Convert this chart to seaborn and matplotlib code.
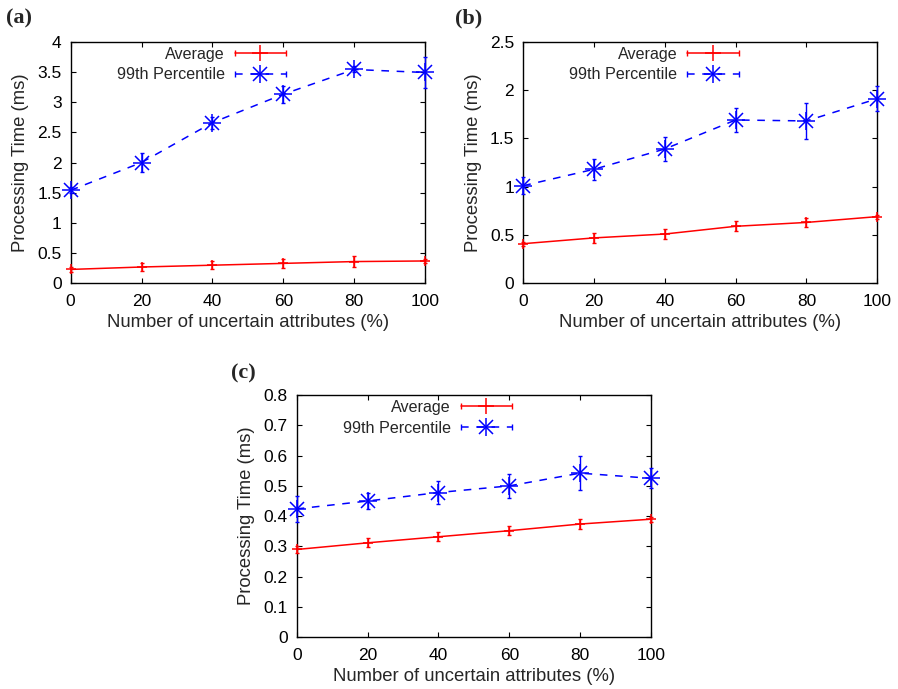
import numpy as np
import pandas as pd
import matplotlib
matplotlib.use("Agg")
import matplotlib.pyplot as plt
import seaborn as sns
from matplotlib.lines import Line2D
from matplotlib.legend_handler import HandlerLine2D, HandlerTuple
from matplotlib.ticker import FixedLocator, FixedFormatter

# ---------------- data ----------------
x_pct = [0, 20, 40, 60, 80, 100]
x_ticklabels = ["0", "20", "40", "60", "80", "100"]

a_avg = [0.23, 0.27, 0.30, 0.33, 0.36, 0.37]
a_avg_err = [0.04, 0.06, 0.07, 0.07, 0.09, 0.03]
a_p99 = [1.54, 2.00, 2.66, 3.13, 3.54, 3.49]
a_p99_err = [0.05, 0.15, 0.10, 0.14, 0.05, 0.25]
a_yticklabels = ["0", "0.5", "1", "1.5", "2", "2.5", "3", "3.5", "4"]

b_avg = [0.41, 0.47, 0.51, 0.59, 0.63, 0.69]
b_avg_err = [0.02, 0.05, 0.05, 0.05, 0.05, 0.02]
b_p99 = [1.01, 1.18, 1.39, 1.69, 1.68, 1.91]
b_p99_err = [0.09, 0.11, 0.12, 0.12, 0.19, 0.13]
b_yticklabels = ["0", "0.5", "1", "1.5", "2", "2.5"]

c_avg = [0.290, 0.312, 0.332, 0.352, 0.374, 0.390]
c_avg_err = [0.012, 0.015, 0.015, 0.015, 0.016, 0.008]
c_p99 = [0.424, 0.450, 0.478, 0.500, 0.542, 0.525]
c_p99_err = [0.043, 0.025, 0.037, 0.040, 0.056, 0.033]
c_yticklabels = ["0", "0.1", "0.2", "0.3", "0.4", "0.5", "0.6", "0.7", "0.8"]

series_names = ["Average", "99th Percentile"]
panel_tags = ["(a)", "(b)", "(c)"]
xlabel = "Number of uncertain attributes (%)"
ylabel = "Processing Time (ms)"

# ---------------- style ----------------
sns.set_style("ticks")
plt.rcParams["font.family"] = ["Liberation Sans", "DejaVu Sans"]
plt.rcParams["axes.linewidth"] = 1.0

RED = "#ff0000"
BLUE = "#0000ff"
DASH = (0, (5, 5))

fig = plt.figure(figsize=(8.98, 6.89), dpi=100)
rects = [
    [0.0787, 0.5888, 0.3946, 0.3507],
    [0.5827, 0.5888, 0.3942, 0.3507],
    [0.3304, 0.0750, 0.3945, 0.3517],
]
tag_pos = [(0.007, 0.988), (0.507, 0.988), (0.257, 0.473)]


def panel(ax, avg, avg_err, p99, p99_err, yticklabels, tag, tpos):
    yt = [float(t) for t in yticklabels]
    # error bars
    ax.errorbar(x_pct, avg, yerr=avg_err, fmt="none", ecolor=RED,
                elinewidth=1, capsize=1.5, capthick=1, clip_on=False, zorder=3)
    ax.errorbar(x_pct, p99, yerr=p99_err, fmt="none", ecolor=BLUE,
                elinewidth=1, capsize=1.5, capthick=1, clip_on=False, zorder=3)
    # lines with markers
    df_avg = pd.DataFrame({"x": x_pct, "y": avg})
    df_p99 = pd.DataFrame({"x": x_pct, "y": p99})
    sns.lineplot(data=df_avg, x="x", y="y", ax=ax, color=RED, lw=1.1,
                 marker="+", markersize=7, markeredgewidth=1.1,
                 markeredgecolor=RED, clip_on=False, zorder=4)
    sns.lineplot(data=df_p99, x="x", y="y", ax=ax, color=BLUE, lw=1.1,
                 linestyle=DASH, marker="+", markersize=13, markeredgewidth=1.1,
                 markeredgecolor=BLUE, clip_on=False, zorder=4)
    ax.plot(x_pct, p99, ls="none", marker="x", markersize=10, mew=1.1,
            color=BLUE, clip_on=False, zorder=4)

    ax.set_xlim(0, 100)
    ax.set_ylim(yt[0], yt[-1])
    ax.xaxis.set_major_locator(FixedLocator(x_pct))
    ax.xaxis.set_major_formatter(FixedFormatter(x_ticklabels))
    ax.yaxis.set_major_locator(FixedLocator(yt))
    ax.yaxis.set_major_formatter(FixedFormatter(yticklabels))
    ax.tick_params(direction="in", top=True, right=True, length=3.3,
                   width=0.8, labelsize=12.5, colors="black")
    ax.tick_params(axis="x", pad=7.5)
    ax.tick_params(axis="y", pad=6.5)
    for s in ax.spines.values():
        s.set_visible(True)
        s.set_color("black")
    ax.set_xlabel(xlabel, fontsize=13.3, labelpad=4)
    ax.set_ylabel(ylabel, fontsize=13.3, labelpad=6)

    # legend in gnuplot style
    l_avg = Line2D([], [], color=RED, lw=1.1, marker="|", ms=5, mew=1)
    m_avg = Line2D([], [], color=RED, ls="none", marker="+", ms=11, mew=1.1)
    l_p99 = Line2D([], [], color=BLUE, lw=1.1, ls=DASH, marker="|", ms=5, mew=1)
    m_p99a = Line2D([], [], color=BLUE, ls="none", marker="+", ms=13, mew=1.1)
    m_p99b = Line2D([], [], color=BLUE, ls="none", marker="x", ms=10, mew=1.1)
    hmap = {
        l_avg: HandlerLine2D(numpoints=2, marker_pad=0),
        l_p99: HandlerLine2D(numpoints=2, marker_pad=0),
        m_avg: HandlerLine2D(numpoints=1),
        m_p99a: HandlerLine2D(numpoints=1),
        m_p99b: HandlerLine2D(numpoints=1),
        tuple: HandlerTuple(ndivide=1, pad=0),
    }
    ax.legend([(l_avg, m_avg), (l_p99, m_p99a, m_p99b)], series_names,
              handler_map=hmap, loc="upper right",
              bbox_to_anchor=(0.615, 0.99), frameon=False,
              markerfirst=False, fontsize=11.6, handlelength=3.2,
              handletextpad=0.6, labelspacing=0.36, borderpad=0.15,
              borderaxespad=0)
    fig.text(tpos[0], tpos[1], tag, fontsize=16, fontweight="bold",
             family=["Liberation Serif", "DejaVu Serif"], va="top", ha="left")


data = [
    (a_avg, a_avg_err, a_p99, a_p99_err, a_yticklabels),
    (b_avg, b_avg_err, b_p99, b_p99_err, b_yticklabels),
    (c_avg, c_avg_err, c_p99, c_p99_err, c_yticklabels),
]
for r, d, tag, tp in zip(rects, data, panel_tags, tag_pos):
    ax = fig.add_axes(r)
    panel(ax, *d, tag, tp)

fig.savefig("out.png", dpi=100, facecolor="white")
